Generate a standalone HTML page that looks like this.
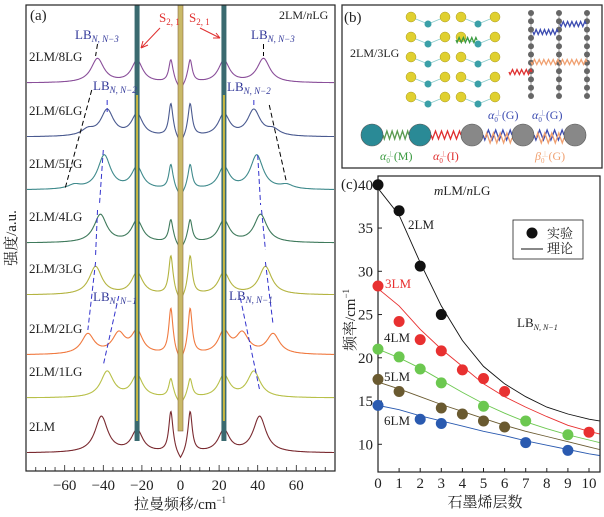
<!DOCTYPE html>
<html><head><meta charset="utf-8"><style>
body{margin:0;background:#fff;}
svg{display:block;font-family:"Liberation Serif","Noto Serif CJK SC",serif;}
</style></head><body>
<svg id="fig" width="604" height="517" viewBox="0 0 604 517">
<rect width="604" height="517" fill="#fff"/>
<g id="pa"></g>
<g id="pb"></g>
<g id="pc"></g>
</svg>
<script>
// ---------- Panel (a) data ----------
const traceNames = ["2LM","2LM/1LG","2LM/2LG","2LM/3LG","2LM/4LG","2LM/5LG","2LM/6LG","2LM/8LG"];
const traceColors = ["#7a2a30","#b8c048","#f07a40","#b4b440","#3f7a5c","#3f8a8c","#4a5a90","#8a4f9a"];
const traceBaselines = [453,398,355,295,243,190,137,83];
const lbPeaks = [[41],[38],[48,32],[44],[41.5],[39.5,55],[38,48],[43]];
const lbHeights = [[36],[26],[20,20],[28],[28],[34,4],[26,6],[24]];
const sPeakHeights = [40,18,45,38,22,24,32,22];
const xTicks = [-60,-40,-20,0,20,40,60];

// ---------- Panel (c) data ----------
const layers = [0,1,2,3,4,5,6,7,8,9,10];
const exp2LM_x=[0,1,2,3], exp2LM_y=[40,37,30.6,25];
const exp3LM_x=[0,1,2,3,4,5,6,10], exp3LM_y=[28.3,24.2,22.1,20.8,18.6,17.6,16.1,11.4];
const exp4LM_x=[0,1,2,3,5,7,9], exp4LM_y=[21,20.1,18.7,17.1,14.4,12.7,11.1];
const exp5LM_x=[0,1,3,4,5,6], exp5LM_y=[17.5,16.1,14.2,13.5,12.7,12.0];
const exp6LM_x=[0,2,3,7,9], exp6LM_y=[14.5,12.9,12.4,10.2,9.3];
const theoryX=[0,1,2,3,4,5,6,7,8,9,10,10.5];
const th2LM=[39.6,36.5,31,26,22,19,17,15.5,14.3,13.5,12.9,12.7];
const th3LM=[28,26,23.3,21,19,17,15.5,14.3,13.2,12.2,11.5,11.2];
const th4LM=[21,20,18.8,17.4,16,14.7,13.6,12.6,11.8,11.1,10.5,10.2];
const th5LM=[17.2,16.4,15.5,14.6,13.8,13,12.2,11.5,10.9,10.3,9.7,9.4];
const th6LM=[14.5,14,13.3,12.7,12.1,11.5,11,10.4,9.9,9.4,8.9,8.7];
const yTicksC=[10,15,20,25,30,35,40];

const NS="http://www.w3.org/2000/svg";
function mk(parent,tag,attrs,text){const e=document.createElementNS(NS,tag);for(const k in attrs)e.setAttribute(k,attrs[k]);if(text!==undefined)e.textContent=text;parent.appendChild(e);return e;}

// ===== Panel A =====
const pa=document.getElementById('pa');
const ax=v=>180.5+v*1.93;
const AL=26,AR=335,AT=5,AB=471;
traceNames.forEach((nm,i)=>{
  let d="";
  for(let px=AL+1;px<=AR-1;px+=0.5){
    const x=(px-180.5)/1.93;
    let y=traceBaselines[i];
    lbPeaks[i].forEach((p,j)=>{const h=lbHeights[i][j];
      y-=h/(1+((x-p)/4)**2);y-=h/(1+((x+p)/4)**2);});
    const sh=sPeakHeights[i];
    y-=sh/(1+((Math.abs(x)-5)/1.3)**2);
    y-=22/(1+((Math.abs(x)-22.5)/3.5)**2);
    if(Math.abs(x)<3.5) y+=8*(1-Math.abs(x)/3.5);
    d+=(d?"L":"M")+px.toFixed(1)+","+y.toFixed(1);
  }
  const p=mk(pa,'path',{d:d,fill:'none',stroke:traceColors[i],'stroke-width':1.1});
  
  
  const t=mk(pa,'text',{x:29,y:traceBaselines[i]-22,'font-size':13,fill:'#222'},nm);
  
  
});
[-22.5,22.5].forEach(v=>{
  const r=mk(pa,'rect',{x:ax(v)-2.5,y:AT,width:5,height:AB-AT-30,fill:'#3a6a70'});
  
  
  mk(pa,'rect',{x:ax(v)-1,y:AT+90,width:2,height:AB-AT-140,fill:'#c8b840'});
});
const cb=mk(pa,'rect',{x:ax(0)-2.5,y:AT,width:5,height:AB-AT-40,fill:'#c9b968',stroke:'#8a6a40','stroke-width':0.6});


function dline(x1,y1,x2,y2,c){const l=mk(pa,'line',{x1:ax(x1),y1:y1,x2:ax(x2),y2:y2,stroke:c,'stroke-width':1,'stroke-dasharray':'5,3'});}
dline(-43,44,-44,56,'#000');dline(-46,90,-60,190,'#000');
dline(43,44,43,56,'#000');dline(46,105,55,183,'#000');
dline(-38,100,-38,112,'#33c');dline(-40,150,-42,205,'#33c');dline(-43,210,-44,255,'#33c');dline(-44,262,-48,330,'#33c');
dline(38,100,38,108,'#33c');dline(40,155,41.5,205,'#33c');dline(42,210,44,250,'#33c');dline(44,262,48,325,'#33c');
dline(-32,296,-40,365,'#33c');dline(31,298,41,390,'#33c');
function lb(x,y,sub){const t=mk(pa,'text',{x:x,y:y,'font-size':13,fill:'#33399a'});t.textContent='LB';mk(t,'tspan',{'font-size':9,dy:3,'font-style':'italic'},sub);}
lb(75,39,'N, N−3');lb(251,39,'N, N−3');lb(93,90,'N, N−2');lb(227,91,'N, N−2');lb(93,301,'N, N−1');lb(229,300,'N, N−1');
function sl(x,y){const t=mk(pa,'text',{x:x,y:y,'font-size':13,fill:'#e03030'});t.textContent='S';mk(t,'tspan',{'font-size':9,dy:3},'2, 1');}
sl(159,22);sl(189,22);
mk(pa,'path',{d:'M160,28 L141,48 M141,48 L148,45 M141,48 L143,41',stroke:'#e03030',fill:'none','stroke-width':1});
mk(pa,'path',{d:'M200,28 L220,38 M220,38 L213,38 M220,38 L216,33',stroke:'#e03030',fill:'none','stroke-width':1});
mk(pa,'text',{x:30,y:20,'font-size':15,fill:'#222'},'(a)');
const t2=mk(pa,'text',{x:279,y:19,'font-size':12,fill:'#222'});t2.textContent='2LM/';mk(t2,'tspan',{'font-style':'italic'},'n');mk(t2,'tspan',{},'LG');
const fr=mk(pa,'rect',{x:AL,y:AT,width:AR-AL,height:AB-AT,fill:'none',stroke:'#222','stroke-width':1.2});

for(let v=-75;v<=80;v+=5){mk(pa,'line',{x1:ax(v),x2:ax(v),y1:AB,y2:AB-(v%20===0?6:4),stroke:'#222','stroke-width':0.8});}
xTicks.forEach(v=>{const t=mk(pa,'text',{x:ax(v),y:490,'font-size':15,'text-anchor':'middle',fill:'#222'},v<0?'−'+(-v):String(v));});
const xt=mk(pa,'text',{x:180,y:509,'font-size':15,'text-anchor':'middle',fill:'#222'});xt.textContent='拉曼频移/cm';mk(xt,'tspan',{'font-size':9,dy:-6},'−1');
const yt=mk(pa,'text',{x:0,y:0,'font-size':15,'text-anchor':'middle',fill:'#222',transform:'translate(16,238) rotate(-90)'},'强度/a.u.');

// ===== Panel B =====
const pb=document.getElementById('pb');
const bf=mk(pb,'rect',{x:342,y:5,width:260,height:163,fill:'#fff',stroke:'#333','stroke-width':1.3});

mk(pb,'text',{x:344,y:22,'font-size':15,fill:'#222'},'(b)');
mk(pb,'text',{x:350,y:57,'font-size':12,fill:'#222'},'2LM/3LG');
function spring(x1,y1,x2,y2,c,n,a){let d='M'+x1+','+y1;for(let k=1;k<=n*4;k++){const t=k/(n*4);const s=Math.sin(t*n*2*Math.PI)*a;d+='L'+(x1+(x2-x1)*t).toFixed(1)+','+(y1+(y2-y1)*t+s).toFixed(1);}const p=mk(pb,'path',{d:d,fill:'none',stroke:c,'stroke-width':1.3});}
[428,478].forEach(cx=>{
  for(let r=0;r<5;r++){const y=17+r*20;
    mk(pb,'line',{x1:cx-17,y1:y,x2:cx,y2:y+7,stroke:'#8cc','stroke-width':0.8});mk(pb,'line',{x1:cx+17,y1:y,x2:cx,y2:y+7,stroke:'#8cc','stroke-width':0.8});
    mk(pb,'circle',{cx:cx-17,cy:y,r:5,fill:'#e0d030',stroke:'#aa9a20','stroke-width':0.5});
    mk(pb,'circle',{cx:cx+17,cy:y,r:5,fill:'#e0d030',stroke:'#aa9a20','stroke-width':0.5});
    mk(pb,'circle',{cx:cx,cy:y+7,r:3.5,fill:'#3aa0a8'});}
});
[531,559,587].forEach(cx=>{mk(pb,'line',{x1:cx,y1:12,x2:cx,y2:98,stroke:'#999'});for(let k=0;k<11;k++)mk(pb,'circle',{cx:cx,cy:13+k*8.3,r:3,fill:'#666'});});
spring(456,40,477,40,'#3a9a40',5,2.5);spring(509,72,532,72,'#e03030',5,2.5);
spring(533,32,558,32,'#3a4ab0',6,2.5);spring(560,24,586,24,'#3a4ab0',6,2.5);
spring(531,62,587,62,'#f0a070',12,2.5);
const balls=[[372,'#2a8a96'],[420,'#2a8a96'],[472,'#888'],[523,'#888'],[575,'#888']];
spring(383,135,409,135,'#5a9a50',5,4);spring(431,135,461,135,'#e03030',5,4);
spring(483,135,512,135,'#3a4ab0',4,5);spring(485,138,512,138,'#f0a070',4,-5);
spring(534,135,564,135,'#3a4ab0',4,5);spring(536,138,564,138,'#f0a070',4,-5);
balls.forEach(([x,c])=>{const b=mk(pb,'circle',{cx:x,cy:135,r:11,fill:c,stroke:'#555','stroke-width':0.6});});
function alab(x,y,c,g,m){const t=mk(pb,'text',{x:x,y:y,'font-size':12,fill:c});mk(t,'tspan',{'font-style':'italic'},g);mk(t,'tspan',{'font-size':7,dy:3},'0');mk(t,'tspan',{'font-size':7,dy:-7,dx:-3},'⊥');mk(t,'tspan',{dy:4},'('+m+')');}
alab(380,160,'#3a9a40','α','M');alab(433,160,'#e03030','α','I');alab(488,119,'#3a4ab0','α','G');alab(532,119,'#3a4ab0','α','G');alab(535,160,'#f0a070','β','G');

// ===== Panel C =====
const pc=document.getElementById('pc');
const CL=378,CR=600,CT=176,CB=472;
const cx=v=>378+v*21.1, cy=v=>444.3-(v-10)*8.65;
const cf=mk(pc,'rect',{x:CL,y:CT,width:CR-CL,height:CB-CT,fill:'none',stroke:'#222','stroke-width':1.2});

layers.forEach(v=>{mk(pc,'line',{x1:cx(v),x2:cx(v),y1:CB,y2:CB-4,stroke:'#222'});const t=mk(pc,'text',{x:cx(v),y:488,'font-size':15,'text-anchor':'middle',fill:'#222'},String(v));});
yTicksC.forEach(v=>{mk(pc,'line',{x1:CL,x2:CL+4,y1:cy(v),y2:cy(v),stroke:'#222'});const t=mk(pc,'text',{x:373,y:cy(v)+5,'font-size':15,'text-anchor':'end',fill:'#222'},String(v));});
const series=[[th2LM,exp2LM_x,exp2LM_y,'#111','2LM'],[th3LM,exp3LM_x,exp3LM_y,'#e83030','3LM'],[th4LM,exp4LM_x,exp4LM_y,'#6cc850','4LM'],[th5LM,exp5LM_x,exp5LM_y,'#6a5a30','5LM'],[th6LM,exp6LM_x,exp6LM_y,'#2a5ab0','6LM']];
series.forEach(([th,ex,ey,c,nm])=>{
  const d=theoryX.map((x,i)=>(i?'L':'M')+cx(x).toFixed(1)+','+cy(th[i]).toFixed(1)).join('');
  const p=mk(pc,'path',{d:d,fill:'none',stroke:c,'stroke-width':0.9});
  
  ex.forEach((x,i)=>{const m=mk(pc,'circle',{cx:cx(x),cy:cy(ey[i]),r:5.5,fill:c});});
});
[['2LM',408,229,'#222'],['3LM',385,288,'#e83030'],['4LM',384,342,'#222'],['5LM',384,381,'#222'],['6LM',384,425,'#222']].forEach(([t,x,y,c])=>{const e=mk(pc,'text',{x:x,y:y,'font-size':13,fill:c},t);});
const tm=mk(pc,'text',{x:434,y:195,'font-size':13,fill:'#222'});mk(tm,'tspan',{'font-style':'italic'},'m');mk(tm,'tspan',{},'LM/');mk(tm,'tspan',{'font-style':'italic'},'n');mk(tm,'tspan',{},'LG');
const lbc=mk(pc,'text',{x:517,y:327,'font-size':13,fill:'#222'},'LB');mk(lbc,'tspan',{'font-size':8,dy:3,'font-style':'italic'},'N, N−1');
const lg=mk(pc,'g',{});
mk(lg,'rect',{x:513,y:220,width:70,height:39,fill:'#fff',stroke:'#222','stroke-width':0.8});
mk(lg,'circle',{cx:532,cy:233,r:5.5,fill:'#111'});mk(lg,'text',{x:547,y:238,'font-size':13,fill:'#222'},'实验');
mk(lg,'line',{x1:521,x2:543,y1:249,y2:249,stroke:'#111'});mk(lg,'text',{x:547,y:253,'font-size':13,fill:'#222'},'理论');
mk(pc,'text',{x:341,y:189,'font-size':15,fill:'#222'},'(c)');
const cxt=mk(pc,'text',{x:485,y:507,'font-size':15,'text-anchor':'middle',fill:'#222'},'石墨烯层数');
const cyt=mk(pc,'text',{x:0,y:0,'font-size':15,'text-anchor':'middle',fill:'#222',transform:'translate(355,320) rotate(-90)'},'频率/cm');mk(cyt,'tspan',{'font-size':9,dy:-6},'−1');

</script>
</body></html>
